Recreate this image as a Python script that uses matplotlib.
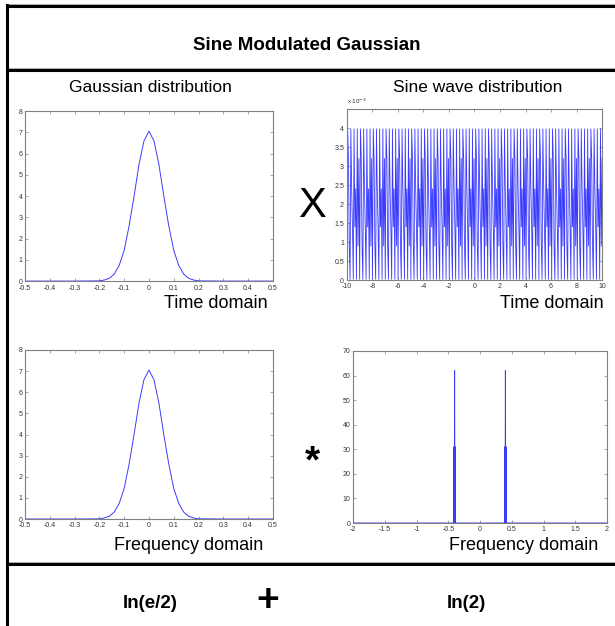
import numpy as np
import matplotlib
matplotlib.use("Agg")
import matplotlib.pyplot as plt
from matplotlib.lines import Line2D

plt.rcParams['font.family'] = ['Liberation Sans', 'DejaVu Sans']
plt.rcParams['axes.unicode_minus'] = False

# Gaussian curve (same shape in time and frequency domain)
gauss_x = [-0.5, -0.4, -0.3, -0.2, -0.18, -0.16, -0.14, -0.12, -0.10, -0.08, -0.06,
           -0.04, -0.02, 0.0, 0.02, 0.04, 0.06, 0.08, 0.10, 0.12, 0.14, 0.16,
           0.18, 0.2, 0.3, 0.4, 0.5]
gauss_y = [0.0, 0.0, 0.0, 0.01, 0.05, 0.13, 0.33, 0.74, 1.45, 2.6, 4.0,
           5.5, 6.6, 7.05, 6.6, 5.5, 4.0, 2.6, 1.45, 0.74, 0.33, 0.13,
           0.05, 0.01, 0.0, 0.0, 0.0]

# sampled sine (x 1e-3), one stretch of the repeating pattern
sine_pattern = [0.02, 3.98, 3.2, 0.9, 0.02, 3.98, 2.4, 1.4,
                0.02, 3.98, 1.4, 2.4, 0.02, 3.98, 0.9, 3.2]
sine_repeats = 20

# spectrum of the sine
spec_x = [-2.0, -0.412, -0.41, -0.405, -0.4, -0.395, -0.39, -0.388,
          0.388, 0.39, 0.395, 0.4, 0.405, 0.41, 0.412, 2.0]
spec_y = [0, 0, 31, 0, 62, 0, 31, 0,
          0, 31, 0, 62, 0, 31, 0, 0]

line_col = '#3b3bff'
spine_col = '#808080'

fig = plt.figure(figsize=(6.15, 6.26), dpi=100)


def style_axes(ax):
    for s in ax.spines.values():
        s.set_color(spine_col)
        s.set_linewidth(0.8)
    ax.tick_params(direction='in', length=2, width=0.5, color=spine_col,
                   labelsize=5, top=True, right=True, labelcolor='#333333')
    ax.tick_params(axis='x', pad=2.5)
    ax.tick_params(axis='y', pad=2.0)


def fmt(v):
    return '%g' % (round(v, 3) + 0.0)


# top left: Gaussian in time
ax1 = fig.add_axes([0.0407, 0.551, 0.403, 0.2716])
ax1.plot(gauss_x, gauss_y, color=line_col, lw=0.7)
ax1.set_xlim(-0.5, 0.5)
ax1.set_ylim(0, 8)
xt = np.arange(-0.5, 0.51, 0.1)
ax1.set_xticks(xt)
ax1.set_xticklabels([fmt(v) for v in xt])
ax1.set_yticks(range(9))
style_axes(ax1)

# top right: sine wave
sine_vals = np.tile(sine_pattern, sine_repeats) * 1e-3
sine_t = np.linspace(-10, 10, len(sine_vals))
ax2 = fig.add_axes([0.564, 0.5527, 0.415, 0.273])
ax2.plot(sine_t, sine_vals, color=line_col, lw=0.6)
ax2.set_xlim(-10, 10)
ax2.set_ylim(0, 4.5e-3)
ax2.set_xticks(range(-10, 11, 2))
yt = np.arange(0, 4.01, 0.5)
ax2.set_yticks(yt * 1e-3)
ax2.set_yticklabels([fmt(v) for v in yt])
style_axes(ax2)
ax2.text(0.0, 1.02, r'x 10$^{-3}$', transform=ax2.transAxes, fontsize=4.5,
         color='#333333', ha='left', va='bottom')

# bottom left: Gaussian in frequency
ax3 = fig.add_axes([0.0407, 0.1709, 0.403, 0.270])
ax3.plot(gauss_x, gauss_y, color=line_col, lw=0.7)
ax3.set_xlim(-0.5, 0.5)
ax3.set_ylim(0, 8)
ax3.set_xticks(xt)
ax3.set_xticklabels([fmt(v) for v in xt])
ax3.set_yticks(range(9))
style_axes(ax3)

# bottom right: spectrum
ax4 = fig.add_axes([0.574, 0.1645, 0.413, 0.2748])
ax4.plot(spec_x, spec_y, color=line_col, lw=0.7)
ax4.set_xlim(-2, 2)
ax4.set_ylim(0, 70)
xt4 = np.arange(-2, 2.01, 0.5)
ax4.set_xticks(xt4)
ax4.set_xticklabels([fmt(v) for v in xt4])
ax4.set_yticks(range(0, 71, 10))
style_axes(ax4)

# frame lines (pixel coords -> figure fraction)
W, H = 615.0, 626.0


def hline(y, x0=7, x1=615, lw=2.2):
    fig.add_artist(Line2D([x0 / W, x1 / W], [1 - y / H, 1 - y / H],
                          color='black', lw=lw, transform=fig.transFigure))
    fig.add_artist(Line2D([x0 / W, x1 / W], [1 - (y - 1.8) / H, 1 - (y - 1.8) / H],
                          color='#a0a0a0', lw=0.6, transform=fig.transFigure))


hline(6)
hline(70)
hline(564)
fig.add_artist(Line2D([7 / W, 7 / W], [1 - 5 / H, 0], color='black', lw=2.2,
                      transform=fig.transFigure))

# texts
fig.text(307 / W, 1 - 45 / H, 'Sine Modulated Gaussian', ha='center', va='center',
         fontsize=13.5, fontweight='bold')
fig.text(150 / W, 1 - 87 / H, 'Gaussian distribution', ha='center', va='center', fontsize=12.5)
fig.text(478 / W, 1 - 87 / H, 'Sine wave distribution', ha='center', va='center', fontsize=12.5)
fig.text(268 / W, 1 - 303 / H, 'Time domain', ha='right', va='center', fontsize=13)
fig.text(604 / W, 1 - 303 / H, 'Time domain', ha='right', va='center', fontsize=13)
fig.text(189 / W, 1 - 545 / H, 'Frequency domain', ha='center', va='center', fontsize=13)
fig.text(524 / W, 1 - 545 / H, 'Frequency domain', ha='center', va='center', fontsize=13)
fig.text(312 / W, 1 - 206 / H, 'X', ha='center', va='center', fontsize=30)
fig.text(312 / W, 1 - 462 / H, '*', ha='center', va='center', fontsize=28, fontweight='bold')
fig.text(150 / W, 1 - 603 / H, 'ln(e/2)', ha='center', va='center', fontsize=13.5,
         fontweight='bold')
fig.text(268 / W, 1 - 601 / H, '+', ha='center', va='center', fontsize=28, fontweight='bold')
fig.text(466 / W, 1 - 603 / H, 'ln(2)', ha='center', va='center', fontsize=13.5,
         fontweight='bold')

fig.savefig('out.png', dpi=100)
